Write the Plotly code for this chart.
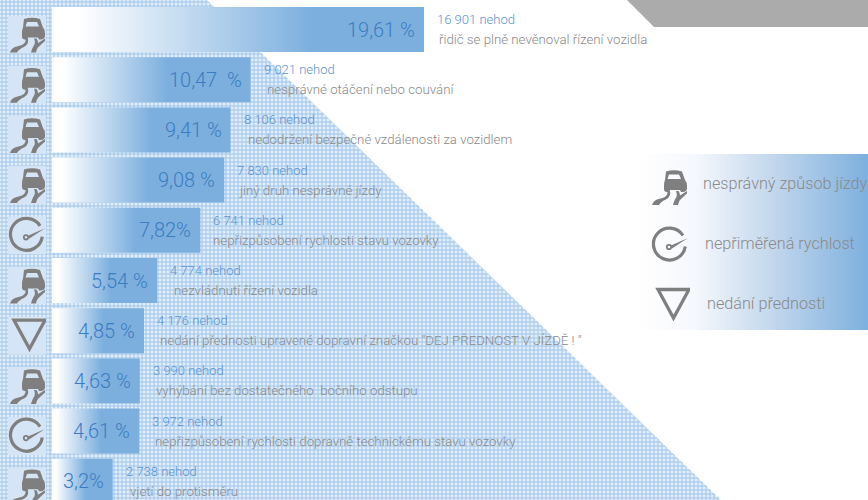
import base64
import plotly.graph_objects as go

# ---- data ----
percent_values = [19.61, 10.47, 9.41, 9.08, 7.82, 5.54, 4.85, 4.63, 4.61, 3.2]
percent_labels = ["19,61 %", "10,47\u00a0 %", "9,41 %", "9,08 %", "7,82%", "5,54 %", "4,85 %", "4,63 %", "4,61 %", "3,2%"]
count_labels = ["16 901 nehod", "9 021 nehod", "8 106 nehod", "7 830 nehod", "6 741 nehod",
                "4 774 nehod", "4 176 nehod", "3 990 nehod", "3 972 nehod", "2 738 nehod"]
causes = ["řidič se plně nevěnoval řízení vozidla", "nesprávné otáčení nebo couvání",
          "nedodržení bezpečné vzdálenosti za vozidlem", "jiný druh nesprávné jízdy",
          "nepřizpůsobení rychlosti stavu vozovky", "nezvládnutí řízení vozidla",
          "nedání přednosti upravené dopravní značkou \"DEJ PŘEDNOST V JÍZDĚ ! \"",
          "vyhýbání bez dostatečného\u00a0 bočního odstupu",
          "nepřizpůsobení rychlosti dopravně technickému stavu vozovky", "vjetí do protisměru"]
cause_types = ["car", "car", "car", "car", "gauge", "car", "yield", "car", "gauge", "car"]
legend_types = ["car", "gauge", "yield"]
legend_labels = ["nesprávný způsob jízdy", "nepřiměřená rychlost", "nedání přednosti"]

# ---- styling / layout constants ----
W, H = 868, 500
BAR_LEFT, SCALE = 52, 18.97      # px, px per percent
ROW0, PITCH = 29.5, 50.2         # px
HALF = 0.448
FONT = "Roboto"
BAR = "#7cafde"
desc_nudge = [2, 3, 4, 2, 0, 4, 3, 3, 3, 4]
stop = [0.7, 0.58, 0.56, 0.56, 0.56, 0.56, 0.56, 0.56, 0.56, 0.56]

GREY = "#7f7f7f"
ICONS = {
    "car": ('<path fill-rule="evenodd" d="M16 3.500Q24 1 32 3.500L35 12Q37 14 37 18L37 21Q36 24 33 24L31 24L30 22L20 22L19 24L17 24Q14 24 14 21'
            'L14 17Q14 14 15 12ZM19 6.500L29 6.500L31 11L17.500 11Z"/>'
            '<path d="M2 37Q3 33 7 31.500L14 29.500Q19 27 17 22L19.500 22Q22 28 16 31.500Q11 33.500 9 37Z"/>'
            '<path d="M23 37Q24 33 25.500 30.500Q28 28 26 23L28.500 23Q30 25 30 27.500L37 23L37 25.500Q33 29 30 32Q28.500 34 28 37Z"/>'),
    "gauge": (f'<path d="M32 9.500A16 16 0 1 0 34.300 20.500" fill="none" stroke="{GREY}" stroke-width="3.2" transform="translate(0 0)"/>'
              f'<circle cx="18" cy="21" r="2.2" fill="none" stroke="{GREY}" stroke-width="1.8"/>'
              f'<path d="M20 19.500L37 12L21 22.500Z"/>'),
    "yield": f'<path d="M6 3.500L37 3.500L21.500 32Z" fill="none" stroke="{GREY}" stroke-width="3.3"/>',
}


def icon_uri(kind, bg=None):
    rect = f'<rect width="38" height="38" fill="{bg}"/>' if bg else ""
    svg = (f'<svg xmlns="http://www.w3.org/2000/svg" width="152" height="152" viewBox="0 0 38 38">{rect}'
           f'<g fill="{GREY}">{ICONS[kind]}</g></svg>')
    return "data:image/svg+xml;base64," + base64.b64encode(svg.encode()).decode()


fig = go.Figure()

# decoration on the pixel-scale base axes
fig.add_trace(go.Scatter(
    x=[0, 207, 721, 0, 0], y=[0, 0, 500, 500, 0], mode="lines", line=dict(width=0),
    fill="toself", fillcolor="#d9e8f6",
    fillpattern=dict(shape="+", size=4, solidity=0.42, fgcolor="#9cc3e8", bgcolor="#e1edf9", fillmode="replace"),
    hoverinfo="skip", showlegend=False))
fig.add_trace(go.Scatter(
    x=[627, 654, 868, 868, 627], y=[0, 27, 27, 0, 0], mode="lines", line=dict(width=0),
    fill="toself", fillcolor="#ababab", hoverinfo="skip", showlegend=False))
fig.add_trace(go.Scatter(
    x=[640, 868, 868, 640, 640], y=[154, 154, 330, 330, 154], mode="lines", line=dict(width=0),
    fill="toself",
    fillgradient=dict(type="horizontal", colorscale=[[0, "#ffffff"], [0.25, "#f4f7fc"], [0.6, "#c0d5ec"], [1, "#7db0de"]]),
    hoverinfo="skip", showlegend=False))

# bars on the overlay axes: x = percent, y = row index
for i, v in enumerate(percent_values):
    fig.add_trace(go.Scatter(
        x=[0, v, v, 0, 0], y=[i - HALF, i - HALF, i + HALF, i + HALF, i - HALF],
        xaxis="x2", yaxis="y2", mode="lines", line=dict(width=0), fill="toself",
        fillgradient=dict(type="horizontal", colorscale=[
            [0, "#ffffff"], [stop[i] * 0.1, "#ffffff"], [stop[i], BAR], [1, BAR]]),
        hoverinfo="skip", showlegend=False))

annotations = []
for i, v in enumerate(percent_values):
    common = dict(x=v, y=i, xref="x2", yref="y2", showarrow=False, yanchor="middle")
    annotations.append(dict(common, text=percent_labels[i], xanchor="right", xshift=-7,
                            font=dict(family=FONT, size=20, color="#3b7dc2", weight=300)))
    annotations.append(dict(common, text=count_labels[i], xanchor="left", xshift=11, yshift=10,
                            font=dict(family=FONT, size=13, color="#5c94d0", weight=300)))
    annotations.append(dict(common, text=causes[i], xanchor="left", xshift=11 + desc_nudge[i], yshift=-10,
                            font=dict(family=FONT, size=13.25, color="#8a8a8a", weight=300)))

legend_text_x = [701, 703, 705]
legend_text_y = [183, 243, 303]
for lbl, lx, ly in zip(legend_labels, legend_text_x, legend_text_y):
    annotations.append(dict(x=lx, y=ly, xref="x", yref="y", showarrow=False, xanchor="left", yanchor="middle",
                            text=lbl, font=dict(family=FONT, size=16.2, color="#8a8a8a", weight=300)))

images = []
row_icon_left = 8
for i, kind in enumerate(cause_types):
    cy = ROW0 + PITCH * i
    images.append(dict(source=icon_uri(kind, "#d5e5f5"), xref="x", yref="y", x=row_icon_left, y=cy - 14,
                       sizex=38, sizey=38, xanchor="left", yanchor="top", sizing="stretch", layer="above"))
legend_icon_x = [650, 651, 652]
legend_icon_y = [168, 226, 286]
for kind, ix, iy in zip(legend_types, legend_icon_x, legend_icon_y):
    images.append(dict(source=icon_uri(kind), xref="x", yref="y", x=ix, y=iy,
                       sizex=38, sizey=38, xanchor="left", yanchor="top", sizing="stretch", layer="above"))

hidden = dict(visible=False, showgrid=False, zeroline=False, fixedrange=True)
fig.update_layout(
    width=W, height=H, margin=dict(l=0, r=0, t=0, b=0), autosize=False,
    paper_bgcolor="white", plot_bgcolor="white", showlegend=False,
    xaxis=dict(hidden, range=[0, W], domain=[0, 1]),
    yaxis=dict(hidden, range=[H, 0], domain=[0, 1]),
    xaxis2=dict(hidden, overlaying="x", range=[-BAR_LEFT / SCALE, (W - BAR_LEFT) / SCALE]),
    yaxis2=dict(hidden, overlaying="y", range=[(H - ROW0) / PITCH, -ROW0 / PITCH]),
    annotations=annotations, images=images,
)
fig.write_html("out.html", config=dict(displayModeBar=False),
               post_script="document.body.style.margin='0';document.documentElement.style.overflow='hidden';")
